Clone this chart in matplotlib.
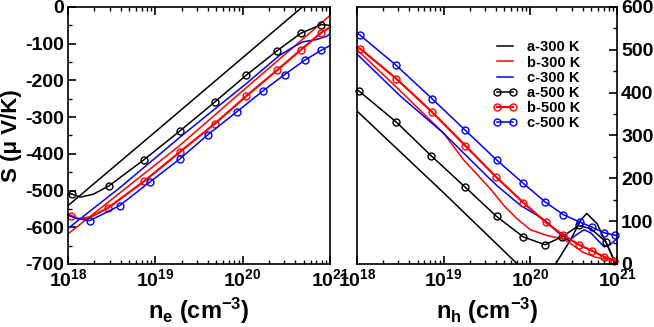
import numpy as np
import matplotlib
matplotlib.use("Agg")
import matplotlib.pyplot as plt
from matplotlib.ticker import MultipleLocator

plt.rcParams['font.family'] = ['Liberation Sans', 'DejaVu Sans']
plt.rcParams['font.weight'] = 'bold'
plt.rcParams['axes.labelweight'] = 'bold'
plt.rcParams['axes.unicode_minus'] = False
plt.rcParams['mathtext.fontset'] = 'custom'
plt.rcParams['mathtext.rm'] = 'Liberation Sans:bold'
plt.rcParams['mathtext.it'] = 'Liberation Sans:bold'
plt.rcParams['mathtext.bf'] = 'Liberation Sans:bold'
plt.rcParams['mathtext.default'] = 'rm'

# --- painel esquerdo: eletrons (log10 de n_e, S em uV/K) ---
e_a300_x = [18.0, 19.0, 20.0, 21.0]
e_a300_y = [-541, -340, -138, 64]
e_b300_x = [18.0, 18.5, 19.28, 20.04, 20.69, 21.0]
e_b300_y = [-618, -524, -377, -220, -87, -23]
e_c300_x = [18.0, 18.6, 19.28, 20.04, 20.42, 20.58, 20.69, 20.84, 20.96, 21.0]
e_c300_y = [-603, -491, -355, -209, -132, -109, -95, -89, -80, -73]
e_a500_x = [18.0, 18.04, 18.14, 18.29, 18.47, 18.87, 19.28, 19.68, 20.04, 20.39, 20.67, 20.90, 21.0]
e_a500_y = [-510, -509, -518, -510, -487, -416, -338, -259, -186, -120, -71, -48, -50]
e_a500_mk = [1, 4, 5, 6, 7, 8, 9, 10, 11]
e_b500_x = [18.0, 18.03, 18.12, 18.25, 18.46, 18.87, 19.28, 19.68, 20.04, 20.39, 20.67, 20.90, 21.0]
e_b500_y = [-565, -568, -577, -573, -547, -475, -395, -318, -243, -173, -116, -70, -55]
e_b500_mk = [1, 4, 5, 6, 7, 8, 9, 10, 11]
e_c500_x = [18.0, 18.1, 18.25, 18.59, 18.935, 19.28, 19.60, 19.93, 20.23, 20.48, 20.71, 20.90, 21.0]
e_c500_y = [-568, -576, -582, -541, -477, -414, -348, -286, -229, -184, -145, -118, -105]
e_c500_mk = [2, 3, 4, 5, 6, 7, 8, 9, 10, 11]

# --- painel direito: buracos (log10 de n_h) ---
h_a300_x = [18.0, 19.0, 19.85, 20.1, 20.29, 20.46, 20.58, 20.65, 20.77, 20.88, 20.96, 21.0]
h_a300_y = [357, 166, 0, -60, 0, 55, 102, 118, 94, 47, 12, -10]
h_b300_x = [18.0, 18.5, 19.0, 19.23, 19.54, 19.7, 19.85, 20.0, 20.2, 20.35, 20.45, 20.6, 20.75, 20.9, 21.0]
h_b300_y = [500, 404, 305, 243, 175, 135, 105, 80, 66, 60, 50, 28, 16, 10, 8]
h_c300_x = [18.0, 18.5, 19.0, 19.5, 19.62, 19.885, 20.17, 20.31, 20.44, 20.53, 20.62, 20.7, 20.85, 20.92, 21.0]
h_c300_y = [490, 392, 305, 205, 182, 137, 102, 75, 55, 68, 80, 72, 40, 45, 60]
h_a500_x = [18.0, 18.02, 18.45, 18.854, 19.25, 19.61, 19.92, 20.17, 20.37, 20.56, 20.7, 20.87, 20.95, 21.0]
h_a500_y = [406, 404, 332, 253, 179, 111, 63, 45, 64, 90, 82, 52, 15, 0]
h_a500_mk = [1, 2, 3, 4, 5, 6, 7, 8, 9, 11]
h_b500_x = [18.0, 18.04, 18.45, 18.865, 19.25, 19.60, 19.92, 20.18, 20.38, 20.56, 20.71, 20.85, 20.97, 21.0]
h_b500_y = [505, 502, 433, 355, 276, 204, 143, 97, 67, 45, 31, 17, 8, 6]
h_b500_mk = list(range(1, 13))
h_c500_x = [18.0, 18.03, 18.45, 18.865, 19.25, 19.61, 19.92, 20.17, 20.38, 20.57, 20.71, 20.85, 20.98, 21.0]
h_c500_y = [538, 535, 464, 386, 312, 243, 188, 145, 115, 98, 86, 73, 67, 66]
h_c500_mk = list(range(1, 13))

rotulos = ['a-300 K', 'b-300 K', 'c-300 K', 'a-500 K', 'b-500 K', 'c-500 K']
cores = ['black', 'red', 'blue']

fig = plt.figure(figsize=(6.54, 3.27), dpi=100)
ax1 = fig.add_axes([0.104, 0.1927, 0.4006, 0.786])
ax2 = fig.add_axes([0.5459, 0.1927, 0.3976, 0.786])

def desenha(ax, linhas300, linhas500):
    for (x, y), c, lab in zip(linhas300, cores, rotulos[:3]):
        ax.plot(10.0 ** np.array(x), y, color=c, lw=1.1, label=lab)
    for (x, y, mk), c, lab in zip(linhas500, cores, rotulos[3:]):
        lw = 1.6 if c == 'red' else 1.1
        ax.plot(10.0 ** np.array(x), y, color=c, lw=lw, marker='o', ms=5,
                mfc='none', mew=1.0, markevery=mk, label=lab, clip_on=False)

desenha(ax1,
        [(e_a300_x, e_a300_y), (e_b300_x, e_b300_y), (e_c300_x, e_c300_y)],
        [(e_a500_x, e_a500_y, e_a500_mk), (e_b500_x, e_b500_y, e_b500_mk),
         (e_c500_x, e_c500_y, e_c500_mk)])
desenha(ax2,
        [(h_a300_x, h_a300_y), (h_b300_x, h_b300_y), (h_c300_x, h_c300_y)],
        [(h_a500_x, h_a500_y, h_a500_mk), (h_b500_x, h_b500_y, h_b500_mk),
         (h_c500_x, h_c500_y, h_c500_mk)])

for ax in (ax1, ax2):
    ax.set_xscale('log')
    ax.set_xlim(1e18, 1e21)
    ax.set_xticks([1e18, 1e19, 1e20, 1e21])
    for s in ax.spines.values():
        s.set_linewidth(1.2)
    ax.tick_params(which='both', direction='in', top=True, bottom=True, labelsize=14, pad=3)
    ax.tick_params(which='major', length=6, width=1.2)
    ax.tick_params(which='minor', length=3, width=1.0)

ax1.set_ylim(-700, 0)
ax1.yaxis.set_major_locator(MultipleLocator(100))
ax1.yaxis.set_minor_locator(MultipleLocator(50))
ax1.tick_params(which='both', left=True, right=False)
ax1.set_ylabel('S (\u03bc V/K)', fontsize=16, fontweight='bold', labelpad=2)
ax1.set_xlabel(r'n$_e$ (cm$^{-3}$)', fontsize=17, fontweight='bold', labelpad=4)

ax2.set_ylim(0, 600)
ax2.yaxis.set_major_locator(MultipleLocator(100))
ax2.yaxis.set_minor_locator(MultipleLocator(50))
ax2.tick_params(which='both', left=False, right=True, labelleft=False, labelright=True)
ax2.set_xlabel(r'n$_h$ (cm$^{-3}$)', fontsize=17, fontweight='bold', labelpad=4)

ax2.legend(loc='upper left', bbox_to_anchor=(0.523, 0.87), frameon=False, fontsize=10.5,
           handlelength=1.7, handletextpad=0.6, labelspacing=0.08, numpoints=2,
           borderpad=0, borderaxespad=0)

fig.savefig('out.png', dpi=100)
